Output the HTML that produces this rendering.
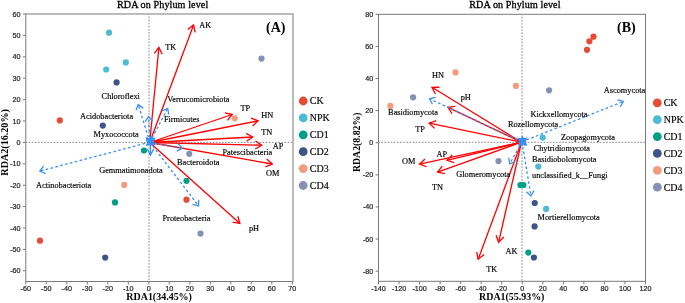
<!DOCTYPE html>
<html><head><meta charset="utf-8"><style>html,body{margin:0;padding:0;background:#fff;}svg{display:block;will-change:transform;}</style></head>
<body><svg width="685" height="303" viewBox="0 0 685 303">
<rect width="685" height="303" fill="#fff"/>
<rect x="25.8" y="14" width="267.2" height="267.5" fill="none" stroke="#7a7a7a" stroke-width="1"/>
<line x1="149" y1="14" x2="149" y2="281.5" stroke="#8a8a8a" stroke-width="1" stroke-dasharray="1.7 1.42" stroke-dashoffset="0.7"/>
<line x1="25.8" y1="142.4" x2="293" y2="142.4" stroke="#8a8a8a" stroke-width="1" stroke-dasharray="1.7 1.42" stroke-dashoffset="0.3"/>
<line x1="25.80" y1="281.5" x2="25.80" y2="284.5" stroke="#7a7a7a" stroke-width="1"/>
<text x="25.80" y="291.40" font-family="'Liberation Sans', serif" font-size="7.2" font-weight="normal" text-anchor="middle" fill="#222" stroke="#222" stroke-width="0.2">-60</text>
<line x1="46.30" y1="281.5" x2="46.30" y2="284.5" stroke="#7a7a7a" stroke-width="1"/>
<text x="46.30" y="291.40" font-family="'Liberation Sans', serif" font-size="7.2" font-weight="normal" text-anchor="middle" fill="#222" stroke="#222" stroke-width="0.2">-50</text>
<line x1="66.80" y1="281.5" x2="66.80" y2="284.5" stroke="#7a7a7a" stroke-width="1"/>
<text x="66.80" y="291.40" font-family="'Liberation Sans', serif" font-size="7.2" font-weight="normal" text-anchor="middle" fill="#222" stroke="#222" stroke-width="0.2">-40</text>
<line x1="87.30" y1="281.5" x2="87.30" y2="284.5" stroke="#7a7a7a" stroke-width="1"/>
<text x="87.30" y="291.40" font-family="'Liberation Sans', serif" font-size="7.2" font-weight="normal" text-anchor="middle" fill="#222" stroke="#222" stroke-width="0.2">-30</text>
<line x1="107.80" y1="281.5" x2="107.80" y2="284.5" stroke="#7a7a7a" stroke-width="1"/>
<text x="107.80" y="291.40" font-family="'Liberation Sans', serif" font-size="7.2" font-weight="normal" text-anchor="middle" fill="#222" stroke="#222" stroke-width="0.2">-20</text>
<line x1="128.30" y1="281.5" x2="128.30" y2="284.5" stroke="#7a7a7a" stroke-width="1"/>
<text x="128.30" y="291.40" font-family="'Liberation Sans', serif" font-size="7.2" font-weight="normal" text-anchor="middle" fill="#222" stroke="#222" stroke-width="0.2">-10</text>
<line x1="148.80" y1="281.5" x2="148.80" y2="284.5" stroke="#7a7a7a" stroke-width="1"/>
<text x="148.80" y="291.40" font-family="'Liberation Sans', serif" font-size="7.2" font-weight="normal" text-anchor="middle" fill="#222" stroke="#222" stroke-width="0.2">0</text>
<line x1="169.30" y1="281.5" x2="169.30" y2="284.5" stroke="#7a7a7a" stroke-width="1"/>
<text x="169.30" y="291.40" font-family="'Liberation Sans', serif" font-size="7.2" font-weight="normal" text-anchor="middle" fill="#222" stroke="#222" stroke-width="0.2">10</text>
<line x1="189.80" y1="281.5" x2="189.80" y2="284.5" stroke="#7a7a7a" stroke-width="1"/>
<text x="189.80" y="291.40" font-family="'Liberation Sans', serif" font-size="7.2" font-weight="normal" text-anchor="middle" fill="#222" stroke="#222" stroke-width="0.2">20</text>
<line x1="210.30" y1="281.5" x2="210.30" y2="284.5" stroke="#7a7a7a" stroke-width="1"/>
<text x="210.30" y="291.40" font-family="'Liberation Sans', serif" font-size="7.2" font-weight="normal" text-anchor="middle" fill="#222" stroke="#222" stroke-width="0.2">30</text>
<line x1="230.80" y1="281.5" x2="230.80" y2="284.5" stroke="#7a7a7a" stroke-width="1"/>
<text x="230.80" y="291.40" font-family="'Liberation Sans', serif" font-size="7.2" font-weight="normal" text-anchor="middle" fill="#222" stroke="#222" stroke-width="0.2">40</text>
<line x1="251.30" y1="281.5" x2="251.30" y2="284.5" stroke="#7a7a7a" stroke-width="1"/>
<text x="251.30" y="291.40" font-family="'Liberation Sans', serif" font-size="7.2" font-weight="normal" text-anchor="middle" fill="#222" stroke="#222" stroke-width="0.2">50</text>
<line x1="271.80" y1="281.5" x2="271.80" y2="284.5" stroke="#7a7a7a" stroke-width="1"/>
<text x="271.80" y="291.40" font-family="'Liberation Sans', serif" font-size="7.2" font-weight="normal" text-anchor="middle" fill="#222" stroke="#222" stroke-width="0.2">60</text>
<line x1="292.30" y1="281.5" x2="292.30" y2="284.5" stroke="#7a7a7a" stroke-width="1"/>
<text x="292.30" y="291.40" font-family="'Liberation Sans', serif" font-size="7.2" font-weight="normal" text-anchor="middle" fill="#222" stroke="#222" stroke-width="0.2">70</text>
<line x1="22.8" y1="14.00" x2="25.8" y2="14.00" stroke="#7a7a7a" stroke-width="1"/>
<text x="20.60" y="16.55" font-family="'Liberation Sans', serif" font-size="7.2" font-weight="normal" text-anchor="end" fill="#222" stroke="#222" stroke-width="0.2">60</text>
<line x1="22.8" y1="35.40" x2="25.8" y2="35.40" stroke="#7a7a7a" stroke-width="1"/>
<text x="20.60" y="37.95" font-family="'Liberation Sans', serif" font-size="7.2" font-weight="normal" text-anchor="end" fill="#222" stroke="#222" stroke-width="0.2">50</text>
<line x1="22.8" y1="56.80" x2="25.8" y2="56.80" stroke="#7a7a7a" stroke-width="1"/>
<text x="20.60" y="59.35" font-family="'Liberation Sans', serif" font-size="7.2" font-weight="normal" text-anchor="end" fill="#222" stroke="#222" stroke-width="0.2">40</text>
<line x1="22.8" y1="78.20" x2="25.8" y2="78.20" stroke="#7a7a7a" stroke-width="1"/>
<text x="20.60" y="80.75" font-family="'Liberation Sans', serif" font-size="7.2" font-weight="normal" text-anchor="end" fill="#222" stroke="#222" stroke-width="0.2">30</text>
<line x1="22.8" y1="99.60" x2="25.8" y2="99.60" stroke="#7a7a7a" stroke-width="1"/>
<text x="20.60" y="102.15" font-family="'Liberation Sans', serif" font-size="7.2" font-weight="normal" text-anchor="end" fill="#222" stroke="#222" stroke-width="0.2">20</text>
<line x1="22.8" y1="121.00" x2="25.8" y2="121.00" stroke="#7a7a7a" stroke-width="1"/>
<text x="20.60" y="123.55" font-family="'Liberation Sans', serif" font-size="7.2" font-weight="normal" text-anchor="end" fill="#222" stroke="#222" stroke-width="0.2">10</text>
<line x1="22.8" y1="142.40" x2="25.8" y2="142.40" stroke="#7a7a7a" stroke-width="1"/>
<text x="20.60" y="144.95" font-family="'Liberation Sans', serif" font-size="7.2" font-weight="normal" text-anchor="end" fill="#222" stroke="#222" stroke-width="0.2">0</text>
<line x1="22.8" y1="163.80" x2="25.8" y2="163.80" stroke="#7a7a7a" stroke-width="1"/>
<text x="20.60" y="166.35" font-family="'Liberation Sans', serif" font-size="7.2" font-weight="normal" text-anchor="end" fill="#222" stroke="#222" stroke-width="0.2">-10</text>
<line x1="22.8" y1="185.20" x2="25.8" y2="185.20" stroke="#7a7a7a" stroke-width="1"/>
<text x="20.60" y="187.75" font-family="'Liberation Sans', serif" font-size="7.2" font-weight="normal" text-anchor="end" fill="#222" stroke="#222" stroke-width="0.2">-20</text>
<line x1="22.8" y1="206.60" x2="25.8" y2="206.60" stroke="#7a7a7a" stroke-width="1"/>
<text x="20.60" y="209.15" font-family="'Liberation Sans', serif" font-size="7.2" font-weight="normal" text-anchor="end" fill="#222" stroke="#222" stroke-width="0.2">-30</text>
<line x1="22.8" y1="228.00" x2="25.8" y2="228.00" stroke="#7a7a7a" stroke-width="1"/>
<text x="20.60" y="230.55" font-family="'Liberation Sans', serif" font-size="7.2" font-weight="normal" text-anchor="end" fill="#222" stroke="#222" stroke-width="0.2">-40</text>
<line x1="22.8" y1="249.40" x2="25.8" y2="249.40" stroke="#7a7a7a" stroke-width="1"/>
<text x="20.60" y="251.95" font-family="'Liberation Sans', serif" font-size="7.2" font-weight="normal" text-anchor="end" fill="#222" stroke="#222" stroke-width="0.2">-50</text>
<line x1="22.8" y1="270.80" x2="25.8" y2="270.80" stroke="#7a7a7a" stroke-width="1"/>
<text x="20.60" y="273.35" font-family="'Liberation Sans', serif" font-size="7.2" font-weight="normal" text-anchor="end" fill="#222" stroke="#222" stroke-width="0.2">-60</text>
<text x="162.55" y="7.90" font-family="'Liberation Serif', serif" font-size="10.1" font-weight="normal" text-anchor="middle" fill="#000" stroke="#000" stroke-width="0.3" textLength="91.3" lengthAdjust="spacing">RDA on Phylum level</text>
<text x="275.70" y="32.00" font-family="'Liberation Serif', serif" font-size="14" font-weight="bold" text-anchor="middle" fill="#000">(A)</text>
<text transform="translate(159.1,300.3)" x="0" y="0" font-family="'Liberation Serif', serif" font-size="10.7" font-weight="bold" text-anchor="middle" textLength="65.6" lengthAdjust="spacingAndGlyphs" fill="#000">RDA1(34.45%)</text>
<text transform="translate(7.6,142.4) rotate(-90)" x="0" y="0" font-family="'Liberation Serif', serif" font-size="10.7" font-weight="bold" text-anchor="middle" textLength="66.5" lengthAdjust="spacingAndGlyphs" fill="#000">RDA2(16.20%)</text>
<line x1="149.70" y1="142.50" x2="158.90" y2="47.50" stroke="#ff0000" stroke-width="1.3"/>
<polyline points="162.24,54.21 158.90,47.50 154.33,53.45" fill="none" stroke="#ff0000" stroke-width="1.3" stroke-linejoin="miter"/>
<line x1="149.70" y1="142.50" x2="193.60" y2="25.00" stroke="#ff0000" stroke-width="1.3"/>
<polyline points="195.10,32.35 193.60,25.00 187.65,29.57" fill="none" stroke="#ff0000" stroke-width="1.3" stroke-linejoin="miter"/>
<line x1="149.70" y1="142.50" x2="232.20" y2="114.50" stroke="#ff0000" stroke-width="1.3"/>
<polyline points="227.45,120.31 232.20,114.50 224.90,112.78" fill="none" stroke="#ff0000" stroke-width="1.3" stroke-linejoin="miter"/>
<line x1="149.70" y1="142.50" x2="258.10" y2="120.80" stroke="#ff0000" stroke-width="1.3"/>
<polyline points="252.64,125.95 258.10,120.80 251.08,118.15" fill="none" stroke="#ff0000" stroke-width="1.3" stroke-linejoin="miter"/>
<line x1="149.70" y1="142.50" x2="252.70" y2="137.00" stroke="#ff0000" stroke-width="1.3"/>
<polyline points="246.56,141.31 252.70,137.00 246.14,133.37" fill="none" stroke="#ff0000" stroke-width="1.3" stroke-linejoin="miter"/>
<line x1="149.70" y1="142.50" x2="261.70" y2="145.20" stroke="#ff0000" stroke-width="1.3"/>
<polyline points="255.25,149.02 261.70,145.20 255.44,141.07" fill="none" stroke="#ff0000" stroke-width="1.3" stroke-linejoin="miter"/>
<line x1="149.70" y1="142.50" x2="272.30" y2="164.00" stroke="#ff0000" stroke-width="1.3"/>
<polyline points="265.35,166.82 272.30,164.00 266.72,158.99" fill="none" stroke="#ff0000" stroke-width="1.3" stroke-linejoin="miter"/>
<line x1="149.70" y1="142.50" x2="239.90" y2="223.50" stroke="#ff0000" stroke-width="1.3"/>
<polyline points="232.51,222.21 239.90,223.50 237.82,216.29" fill="none" stroke="#ff0000" stroke-width="1.3" stroke-linejoin="miter"/>
<circle cx="109.00" cy="32.70" r="3.1" fill="#4DBBD5"/>
<circle cx="125.80" cy="62.40" r="3.1" fill="#4DBBD5"/>
<circle cx="106.20" cy="69.50" r="3.1" fill="#4DBBD5"/>
<circle cx="116.60" cy="82.40" r="3.1" fill="#3C5488"/>
<circle cx="59.80" cy="120.40" r="3.1" fill="#E64B35"/>
<circle cx="102.80" cy="125.60" r="3.1" fill="#3C5488"/>
<circle cx="261.50" cy="58.60" r="3.1" fill="#8491B4"/>
<circle cx="234.70" cy="118.30" r="3.1" fill="#F39B7F"/>
<circle cx="144.00" cy="150.50" r="3.1" fill="#00A087"/>
<circle cx="189.30" cy="153.80" r="3.1" fill="#8491B4"/>
<circle cx="186.50" cy="180.80" r="3.1" fill="#00A087"/>
<circle cx="186.50" cy="199.70" r="3.1" fill="#E64B35"/>
<circle cx="200.50" cy="233.60" r="3.1" fill="#8491B4"/>
<circle cx="124.30" cy="184.90" r="3.1" fill="#F39B7F"/>
<circle cx="115.00" cy="202.40" r="3.1" fill="#00A087"/>
<circle cx="40.00" cy="240.70" r="3.1" fill="#E64B35"/>
<circle cx="105.20" cy="257.60" r="3.1" fill="#3C5488"/>
<line x1="149.80" y1="142.20" x2="138.20" y2="104.60" stroke="#3a8ff0" stroke-width="1.3" stroke-dasharray="2.6 2.4"/>
<polyline points="143.29,108.14 138.20,104.60 135.99,110.39" fill="none" stroke="#3a8ff0" stroke-width="1.3" stroke-linejoin="miter"/>
<line x1="149.80" y1="142.20" x2="148.60" y2="116.60" stroke="#3a8ff0" stroke-width="1.3" stroke-dasharray="2.6 2.4"/>
<polyline points="152.64,121.30 148.60,116.60 145.02,121.66" fill="none" stroke="#3a8ff0" stroke-width="1.3" stroke-linejoin="miter"/>
<line x1="149.80" y1="142.20" x2="167.70" y2="108.40" stroke="#3a8ff0" stroke-width="1.3" stroke-dasharray="2.6 2.4"/>
<polyline points="168.79,114.50 167.70,108.40 162.04,110.93" fill="none" stroke="#3a8ff0" stroke-width="1.3" stroke-linejoin="miter"/>
<line x1="149.80" y1="142.20" x2="39.80" y2="171.10" stroke="#3a8ff0" stroke-width="1.3" stroke-dasharray="2.6 2.4"/>
<polyline points="43.56,166.17 39.80,171.10 45.50,173.55" fill="none" stroke="#3a8ff0" stroke-width="1.3" stroke-linejoin="miter"/>
<line x1="149.80" y1="142.20" x2="182.30" y2="148.30" stroke="#3a8ff0" stroke-width="1.3" stroke-dasharray="2.6 2.4"/>
<polyline points="176.79,151.15 182.30,148.30 178.20,143.65" fill="none" stroke="#3a8ff0" stroke-width="1.3" stroke-linejoin="miter"/>
<line x1="149.80" y1="142.20" x2="198.60" y2="205.90" stroke="#3a8ff0" stroke-width="1.3" stroke-dasharray="2.6 2.4"/>
<polyline points="192.60,204.34 198.60,205.90 198.66,199.70" fill="none" stroke="#3a8ff0" stroke-width="1.3" stroke-linejoin="miter"/>
<line x1="150.40" y1="142.20" x2="150.50" y2="155.10" stroke="#3a8ff0" stroke-width="1.3"/>
<polyline points="147.17,148.95 150.50,155.10 153.74,148.89" fill="none" stroke="#3a8ff0" stroke-width="1.3" stroke-linejoin="miter"/>
<line x1="149.80" y1="142.20" x2="154.50" y2="138.30" stroke="#3a8ff0" stroke-width="1.4"/>
<polyline points="153.11,142.05 154.50,138.30 150.56,138.97" fill="none" stroke="#3a8ff0" stroke-width="1.4" stroke-linejoin="miter"/>
<line x1="149.80" y1="142.20" x2="146.50" y2="138.00" stroke="#3a8ff0" stroke-width="1.4"/>
<polyline points="150.21,139.49 146.50,138.00 147.07,141.96" fill="none" stroke="#3a8ff0" stroke-width="1.4" stroke-linejoin="miter"/>
<line x1="149.80" y1="142.20" x2="154.80" y2="144.50" stroke="#3a8ff0" stroke-width="1.4"/>
<polyline points="150.82,144.87 154.80,144.50 152.49,141.24" fill="none" stroke="#3a8ff0" stroke-width="1.4" stroke-linejoin="miter"/>
<line x1="149.80" y1="142.20" x2="147.00" y2="145.00" stroke="#3a8ff0" stroke-width="1.4"/>
<polyline points="148.04,141.14 147.00,145.00 150.86,143.96" fill="none" stroke="#3a8ff0" stroke-width="1.4" stroke-linejoin="miter"/>
<line x1="149.80" y1="142.20" x2="151.00" y2="137.00" stroke="#3a8ff0" stroke-width="1.4"/>
<polyline points="152.17,140.83 151.00,137.00 148.27,139.93" fill="none" stroke="#3a8ff0" stroke-width="1.4" stroke-linejoin="miter"/>
<text x="165.30" y="50.30" font-family="'Liberation Serif', serif" font-size="8.3" font-weight="normal" text-anchor="start" fill="#000" stroke="#000" stroke-width="0.16">TK</text>
<text x="199.30" y="28.30" font-family="'Liberation Serif', serif" font-size="8.3" font-weight="normal" text-anchor="start" fill="#000" stroke="#000" stroke-width="0.16">AK</text>
<text x="240.40" y="110.70" font-family="'Liberation Serif', serif" font-size="8.3" font-weight="normal" text-anchor="start" fill="#000" stroke="#000" stroke-width="0.16">TP</text>
<text x="261.20" y="117.70" font-family="'Liberation Serif', serif" font-size="8.3" font-weight="normal" text-anchor="start" fill="#000" stroke="#000" stroke-width="0.16">HN</text>
<text x="261.20" y="134.80" font-family="'Liberation Serif', serif" font-size="8.3" font-weight="normal" text-anchor="start" fill="#000" stroke="#000" stroke-width="0.16">TN</text>
<text x="272.80" y="149.30" font-family="'Liberation Serif', serif" font-size="8.3" font-weight="normal" text-anchor="start" fill="#000" stroke="#000" stroke-width="0.16">AP</text>
<text x="265.90" y="175.80" font-family="'Liberation Serif', serif" font-size="8.3" font-weight="normal" text-anchor="start" fill="#000" stroke="#000" stroke-width="0.16">OM</text>
<text x="248.90" y="231.40" font-family="'Liberation Serif', serif" font-size="8.3" font-weight="normal" text-anchor="start" fill="#000" stroke="#000" stroke-width="0.16">pH</text>
<text x="101.60" y="99.30" font-family="'Liberation Serif', serif" font-size="8.3" font-weight="normal" text-anchor="start" fill="#000" stroke="#000" stroke-width="0.16">Chloroflexi</text>
<text x="80.10" y="118.90" font-family="'Liberation Serif', serif" font-size="8.3" font-weight="normal" text-anchor="start" fill="#000" stroke="#000" stroke-width="0.16">Acidobacteriota</text>
<text x="93.50" y="137.00" font-family="'Liberation Serif', serif" font-size="8.3" font-weight="normal" text-anchor="start" fill="#000" stroke="#000" stroke-width="0.16">Myxococcota</text>
<text x="167.30" y="101.50" font-family="'Liberation Serif', serif" font-size="8.3" font-weight="normal" text-anchor="start" fill="#000" stroke="#000" stroke-width="0.16">Verrucomicrobiota</text>
<text x="163.90" y="121.70" font-family="'Liberation Serif', serif" font-size="8.3" font-weight="normal" text-anchor="start" fill="#000" stroke="#000" stroke-width="0.16">Firmicutes</text>
<text x="222.40" y="155.00" font-family="'Liberation Serif', serif" font-size="8.3" font-weight="normal" text-anchor="start" fill="#000" stroke="#000" stroke-width="0.16">Patescibacteria</text>
<text x="177.00" y="164.50" font-family="'Liberation Serif', serif" font-size="8.3" font-weight="normal" text-anchor="start" fill="#000" stroke="#000" stroke-width="0.16">Bacteroidota</text>
<text x="162.50" y="220.60" font-family="'Liberation Serif', serif" font-size="8.3" font-weight="normal" text-anchor="start" fill="#000" stroke="#000" stroke-width="0.16">Proteobacteria</text>
<text x="36.00" y="187.60" font-family="'Liberation Serif', serif" font-size="8.3" font-weight="normal" text-anchor="start" fill="#000" stroke="#000" stroke-width="0.16">Actinobacteriota</text>
<text x="99.20" y="172.80" font-family="'Liberation Serif', serif" font-size="8.3" font-weight="normal" text-anchor="start" fill="#000" stroke="#000" stroke-width="0.16">Gemmatimonadota</text>
<circle cx="303.20" cy="101.00" r="4.4" fill="#E64B35"/>
<text x="309.80" y="104.40" font-family="'Liberation Serif', serif" font-size="10" font-weight="normal" text-anchor="start" fill="#000" stroke="#000" stroke-width="0.16">CK</text>
<circle cx="303.20" cy="117.90" r="4.4" fill="#4DBBD5"/>
<text x="309.80" y="121.30" font-family="'Liberation Serif', serif" font-size="10" font-weight="normal" text-anchor="start" fill="#000" stroke="#000" stroke-width="0.16">NPK</text>
<circle cx="303.20" cy="134.80" r="4.4" fill="#00A087"/>
<text x="309.80" y="138.20" font-family="'Liberation Serif', serif" font-size="10" font-weight="normal" text-anchor="start" fill="#000" stroke="#000" stroke-width="0.16">CD1</text>
<circle cx="303.20" cy="151.70" r="4.4" fill="#3C5488"/>
<text x="309.80" y="155.10" font-family="'Liberation Serif', serif" font-size="10" font-weight="normal" text-anchor="start" fill="#000" stroke="#000" stroke-width="0.16">CD2</text>
<circle cx="303.20" cy="168.60" r="4.4" fill="#F39B7F"/>
<text x="309.80" y="172.00" font-family="'Liberation Serif', serif" font-size="10" font-weight="normal" text-anchor="start" fill="#000" stroke="#000" stroke-width="0.16">CD3</text>
<circle cx="303.20" cy="185.50" r="4.4" fill="#8491B4"/>
<text x="309.80" y="188.90" font-family="'Liberation Serif', serif" font-size="10" font-weight="normal" text-anchor="start" fill="#000" stroke="#000" stroke-width="0.16">CD4</text>
<rect x="378.5" y="14.3" width="267.0" height="267.0" fill="none" stroke="#7a7a7a" stroke-width="1"/>
<line x1="522" y1="14.3" x2="522" y2="281.3" stroke="#8a8a8a" stroke-width="1" stroke-dasharray="1.7 1.42" stroke-dashoffset="0.7"/>
<line x1="378.5" y1="142.3" x2="645.5" y2="142.3" stroke="#8a8a8a" stroke-width="1" stroke-dasharray="1.7 1.42" stroke-dashoffset="0.3"/>
<line x1="378.50" y1="281.3" x2="378.50" y2="284.3" stroke="#7a7a7a" stroke-width="1"/>
<text x="378.50" y="291.20" font-family="'Liberation Sans', serif" font-size="7.2" font-weight="normal" text-anchor="middle" fill="#222" stroke="#222" stroke-width="0.2">-140</text>
<line x1="399.04" y1="281.3" x2="399.04" y2="284.3" stroke="#7a7a7a" stroke-width="1"/>
<text x="399.04" y="291.20" font-family="'Liberation Sans', serif" font-size="7.2" font-weight="normal" text-anchor="middle" fill="#222" stroke="#222" stroke-width="0.2">-120</text>
<line x1="419.58" y1="281.3" x2="419.58" y2="284.3" stroke="#7a7a7a" stroke-width="1"/>
<text x="419.58" y="291.20" font-family="'Liberation Sans', serif" font-size="7.2" font-weight="normal" text-anchor="middle" fill="#222" stroke="#222" stroke-width="0.2">-100</text>
<line x1="440.12" y1="281.3" x2="440.12" y2="284.3" stroke="#7a7a7a" stroke-width="1"/>
<text x="440.12" y="291.20" font-family="'Liberation Sans', serif" font-size="7.2" font-weight="normal" text-anchor="middle" fill="#222" stroke="#222" stroke-width="0.2">-80</text>
<line x1="460.66" y1="281.3" x2="460.66" y2="284.3" stroke="#7a7a7a" stroke-width="1"/>
<text x="460.66" y="291.20" font-family="'Liberation Sans', serif" font-size="7.2" font-weight="normal" text-anchor="middle" fill="#222" stroke="#222" stroke-width="0.2">-60</text>
<line x1="481.20" y1="281.3" x2="481.20" y2="284.3" stroke="#7a7a7a" stroke-width="1"/>
<text x="481.20" y="291.20" font-family="'Liberation Sans', serif" font-size="7.2" font-weight="normal" text-anchor="middle" fill="#222" stroke="#222" stroke-width="0.2">-40</text>
<line x1="501.74" y1="281.3" x2="501.74" y2="284.3" stroke="#7a7a7a" stroke-width="1"/>
<text x="501.74" y="291.20" font-family="'Liberation Sans', serif" font-size="7.2" font-weight="normal" text-anchor="middle" fill="#222" stroke="#222" stroke-width="0.2">-20</text>
<line x1="522.28" y1="281.3" x2="522.28" y2="284.3" stroke="#7a7a7a" stroke-width="1"/>
<text x="522.28" y="291.20" font-family="'Liberation Sans', serif" font-size="7.2" font-weight="normal" text-anchor="middle" fill="#222" stroke="#222" stroke-width="0.2">0</text>
<line x1="542.82" y1="281.3" x2="542.82" y2="284.3" stroke="#7a7a7a" stroke-width="1"/>
<text x="542.82" y="291.20" font-family="'Liberation Sans', serif" font-size="7.2" font-weight="normal" text-anchor="middle" fill="#222" stroke="#222" stroke-width="0.2">20</text>
<line x1="563.36" y1="281.3" x2="563.36" y2="284.3" stroke="#7a7a7a" stroke-width="1"/>
<text x="563.36" y="291.20" font-family="'Liberation Sans', serif" font-size="7.2" font-weight="normal" text-anchor="middle" fill="#222" stroke="#222" stroke-width="0.2">40</text>
<line x1="583.90" y1="281.3" x2="583.90" y2="284.3" stroke="#7a7a7a" stroke-width="1"/>
<text x="583.90" y="291.20" font-family="'Liberation Sans', serif" font-size="7.2" font-weight="normal" text-anchor="middle" fill="#222" stroke="#222" stroke-width="0.2">60</text>
<line x1="604.44" y1="281.3" x2="604.44" y2="284.3" stroke="#7a7a7a" stroke-width="1"/>
<text x="604.44" y="291.20" font-family="'Liberation Sans', serif" font-size="7.2" font-weight="normal" text-anchor="middle" fill="#222" stroke="#222" stroke-width="0.2">80</text>
<line x1="624.98" y1="281.3" x2="624.98" y2="284.3" stroke="#7a7a7a" stroke-width="1"/>
<text x="624.98" y="291.20" font-family="'Liberation Sans', serif" font-size="7.2" font-weight="normal" text-anchor="middle" fill="#222" stroke="#222" stroke-width="0.2">100</text>
<line x1="645.52" y1="281.3" x2="645.52" y2="284.3" stroke="#7a7a7a" stroke-width="1"/>
<text x="645.52" y="291.20" font-family="'Liberation Sans', serif" font-size="7.2" font-weight="normal" text-anchor="middle" fill="#222" stroke="#222" stroke-width="0.2">120</text>
<line x1="375.5" y1="14.30" x2="378.5" y2="14.30" stroke="#7a7a7a" stroke-width="1"/>
<text x="373.30" y="16.85" font-family="'Liberation Sans', serif" font-size="7.2" font-weight="normal" text-anchor="end" fill="#222" stroke="#222" stroke-width="0.2">80</text>
<line x1="375.5" y1="46.41" x2="378.5" y2="46.41" stroke="#7a7a7a" stroke-width="1"/>
<text x="373.30" y="48.96" font-family="'Liberation Sans', serif" font-size="7.2" font-weight="normal" text-anchor="end" fill="#222" stroke="#222" stroke-width="0.2">60</text>
<line x1="375.5" y1="78.51" x2="378.5" y2="78.51" stroke="#7a7a7a" stroke-width="1"/>
<text x="373.30" y="81.06" font-family="'Liberation Sans', serif" font-size="7.2" font-weight="normal" text-anchor="end" fill="#222" stroke="#222" stroke-width="0.2">40</text>
<line x1="375.5" y1="110.62" x2="378.5" y2="110.62" stroke="#7a7a7a" stroke-width="1"/>
<text x="373.30" y="113.17" font-family="'Liberation Sans', serif" font-size="7.2" font-weight="normal" text-anchor="end" fill="#222" stroke="#222" stroke-width="0.2">20</text>
<line x1="375.5" y1="142.72" x2="378.5" y2="142.72" stroke="#7a7a7a" stroke-width="1"/>
<text x="373.30" y="145.27" font-family="'Liberation Sans', serif" font-size="7.2" font-weight="normal" text-anchor="end" fill="#222" stroke="#222" stroke-width="0.2">0</text>
<line x1="375.5" y1="174.83" x2="378.5" y2="174.83" stroke="#7a7a7a" stroke-width="1"/>
<text x="373.30" y="177.38" font-family="'Liberation Sans', serif" font-size="7.2" font-weight="normal" text-anchor="end" fill="#222" stroke="#222" stroke-width="0.2">-20</text>
<line x1="375.5" y1="206.94" x2="378.5" y2="206.94" stroke="#7a7a7a" stroke-width="1"/>
<text x="373.30" y="209.49" font-family="'Liberation Sans', serif" font-size="7.2" font-weight="normal" text-anchor="end" fill="#222" stroke="#222" stroke-width="0.2">-40</text>
<line x1="375.5" y1="239.04" x2="378.5" y2="239.04" stroke="#7a7a7a" stroke-width="1"/>
<text x="373.30" y="241.59" font-family="'Liberation Sans', serif" font-size="7.2" font-weight="normal" text-anchor="end" fill="#222" stroke="#222" stroke-width="0.2">-60</text>
<line x1="375.5" y1="271.15" x2="378.5" y2="271.15" stroke="#7a7a7a" stroke-width="1"/>
<text x="373.30" y="273.70" font-family="'Liberation Sans', serif" font-size="7.2" font-weight="normal" text-anchor="end" fill="#222" stroke="#222" stroke-width="0.2">-80</text>
<text x="514.85" y="7.90" font-family="'Liberation Serif', serif" font-size="10.1" font-weight="normal" text-anchor="middle" fill="#000" stroke="#000" stroke-width="0.3" textLength="91.3" lengthAdjust="spacing">RDA on Phylum level</text>
<text x="626.40" y="32.00" font-family="'Liberation Serif', serif" font-size="14" font-weight="bold" text-anchor="middle" fill="#000">(B)</text>
<text transform="translate(511.7,300.3)" x="0" y="0" font-family="'Liberation Serif', serif" font-size="10.7" font-weight="bold" text-anchor="middle" textLength="65.3" lengthAdjust="spacingAndGlyphs" fill="#000">RDA1(55.93%)</text>
<text transform="translate(359.8,142.3) rotate(-90)" x="0" y="0" font-family="'Liberation Serif', serif" font-size="10.7" font-weight="bold" text-anchor="middle" textLength="59.6" lengthAdjust="spacingAndGlyphs" fill="#000">RDA2(8.82%)</text>
<line x1="521.50" y1="142.20" x2="432.00" y2="87.30" stroke="#ff0000" stroke-width="1.3"/>
<polyline points="439.50,87.24 432.00,87.30 435.34,94.01" fill="none" stroke="#ff0000" stroke-width="1.3" stroke-linejoin="miter"/>
<line x1="521.50" y1="142.20" x2="448.00" y2="107.30" stroke="#ff0000" stroke-width="1.3"/>
<polyline points="455.45,106.44 448.00,107.30 452.04,113.62" fill="none" stroke="#ff0000" stroke-width="1.3" stroke-linejoin="miter"/>
<line x1="521.50" y1="142.20" x2="429.20" y2="123.20" stroke="#ff0000" stroke-width="1.3"/>
<polyline points="436.23,120.59 429.20,123.20 434.63,128.38" fill="none" stroke="#ff0000" stroke-width="1.3" stroke-linejoin="miter"/>
<line x1="521.50" y1="142.20" x2="447.00" y2="160.30" stroke="#ff0000" stroke-width="1.3"/>
<polyline points="452.24,154.94 447.00,160.30 454.12,162.66" fill="none" stroke="#ff0000" stroke-width="1.3" stroke-linejoin="miter"/>
<line x1="521.50" y1="142.20" x2="419.60" y2="164.20" stroke="#ff0000" stroke-width="1.3"/>
<polyline points="424.98,158.97 419.60,164.20 426.66,166.74" fill="none" stroke="#ff0000" stroke-width="1.3" stroke-linejoin="miter"/>
<line x1="521.50" y1="142.20" x2="437.60" y2="172.10" stroke="#ff0000" stroke-width="1.3"/>
<polyline points="442.26,166.22 437.60,172.10 444.93,173.71" fill="none" stroke="#ff0000" stroke-width="1.3" stroke-linejoin="miter"/>
<line x1="521.50" y1="142.20" x2="498.60" y2="242.30" stroke="#ff0000" stroke-width="1.3"/>
<polyline points="496.14,235.21 498.60,242.30 503.89,236.99" fill="none" stroke="#ff0000" stroke-width="1.3" stroke-linejoin="miter"/>
<line x1="521.50" y1="142.20" x2="478.20" y2="259.20" stroke="#ff0000" stroke-width="1.3"/>
<polyline points="476.68,251.86 478.20,259.20 484.13,254.61" fill="none" stroke="#ff0000" stroke-width="1.3" stroke-linejoin="miter"/>
<circle cx="593.50" cy="36.70" r="3.1" fill="#E64B35"/>
<circle cx="589.40" cy="41.30" r="3.1" fill="#E64B35"/>
<circle cx="587.00" cy="49.80" r="3.1" fill="#E64B35"/>
<circle cx="455.50" cy="72.40" r="3.1" fill="#F39B7F"/>
<circle cx="515.90" cy="85.90" r="3.1" fill="#F39B7F"/>
<circle cx="413.10" cy="97.30" r="3.1" fill="#8491B4"/>
<circle cx="390.40" cy="105.90" r="3.1" fill="#F39B7F"/>
<circle cx="549.10" cy="90.30" r="3.1" fill="#8491B4"/>
<circle cx="542.70" cy="137.60" r="3.1" fill="#4DBBD5"/>
<circle cx="498.50" cy="161.10" r="3.1" fill="#8491B4"/>
<circle cx="538.30" cy="166.60" r="3.1" fill="#4DBBD5"/>
<circle cx="520.40" cy="185.00" r="3.1" fill="#00A087"/>
<circle cx="523.40" cy="185.00" r="3.1" fill="#00A087"/>
<circle cx="534.70" cy="203.00" r="3.1" fill="#3C5488"/>
<circle cx="546.10" cy="208.90" r="3.1" fill="#4DBBD5"/>
<circle cx="534.60" cy="226.40" r="3.1" fill="#3C5488"/>
<circle cx="528.30" cy="252.60" r="3.1" fill="#00A087"/>
<circle cx="533.90" cy="257.50" r="3.1" fill="#3C5488"/>
<line x1="522.00" y1="141.80" x2="429.60" y2="98.80" stroke="#3a8ff0" stroke-width="1.3" stroke-dasharray="2.6 2.4"/>
<polyline points="435.64,97.40 429.60,98.80 432.42,104.32" fill="none" stroke="#3a8ff0" stroke-width="1.3" stroke-linejoin="miter"/>
<line x1="522.00" y1="141.80" x2="623.40" y2="101.50" stroke="#3a8ff0" stroke-width="1.3" stroke-dasharray="2.6 2.4"/>
<polyline points="620.27,106.85 623.40,101.50 617.45,99.76" fill="none" stroke="#3a8ff0" stroke-width="1.3" stroke-linejoin="miter"/>
<line x1="522.00" y1="141.80" x2="509.70" y2="163.90" stroke="#3a8ff0" stroke-width="1.3" stroke-dasharray="2.6 2.4"/>
<polyline points="508.74,157.77 509.70,163.90 515.41,161.49" fill="none" stroke="#3a8ff0" stroke-width="1.3" stroke-linejoin="miter"/>
<line x1="522.00" y1="141.80" x2="531.00" y2="196.00" stroke="#3a8ff0" stroke-width="1.3" stroke-dasharray="2.6 2.4"/>
<polyline points="526.43,191.81 531.00,196.00 533.97,190.56" fill="none" stroke="#3a8ff0" stroke-width="1.3" stroke-linejoin="miter"/>
<line x1="522.00" y1="141.80" x2="526.20" y2="138.30" stroke="#3a8ff0" stroke-width="1.4"/>
<polyline points="524.82,142.05 526.20,138.30 522.26,138.98" fill="none" stroke="#3a8ff0" stroke-width="1.4" stroke-linejoin="miter"/>
<line x1="522.00" y1="141.80" x2="518.50" y2="138.50" stroke="#3a8ff0" stroke-width="1.4"/>
<polyline points="522.39,139.42 518.50,138.50 519.65,142.33" fill="none" stroke="#3a8ff0" stroke-width="1.4" stroke-linejoin="miter"/>
<line x1="522.00" y1="141.80" x2="526.20" y2="145.00" stroke="#3a8ff0" stroke-width="1.4"/>
<polyline points="522.23,144.49 526.20,145.00 524.66,141.31" fill="none" stroke="#3a8ff0" stroke-width="1.4" stroke-linejoin="miter"/>
<line x1="522.00" y1="141.80" x2="519.00" y2="145.30" stroke="#3a8ff0" stroke-width="1.4"/>
<polyline points="519.74,141.37 519.00,145.30 522.77,143.97" fill="none" stroke="#3a8ff0" stroke-width="1.4" stroke-linejoin="miter"/>
<line x1="522.00" y1="141.80" x2="522.50" y2="137.00" stroke="#3a8ff0" stroke-width="1.4"/>
<polyline points="524.13,140.65 522.50,137.00 520.15,140.24" fill="none" stroke="#3a8ff0" stroke-width="1.4" stroke-linejoin="miter"/>
<line x1="522.00" y1="141.80" x2="525.00" y2="141.50" stroke="#3a8ff0" stroke-width="1.4"/>
<polyline points="521.75,143.83 525.00,141.50 521.35,139.85" fill="none" stroke="#3a8ff0" stroke-width="1.4" stroke-linejoin="miter"/>
<text x="432.00" y="78.00" font-family="'Liberation Serif', serif" font-size="8.3" font-weight="normal" text-anchor="start" fill="#000" stroke="#000" stroke-width="0.16">HN</text>
<text x="460.70" y="100.40" font-family="'Liberation Serif', serif" font-size="8.3" font-weight="normal" text-anchor="start" fill="#000" stroke="#000" stroke-width="0.16">pH</text>
<text x="388.10" y="115.20" font-family="'Liberation Serif', serif" font-size="8.3" font-weight="normal" text-anchor="start" fill="#000" stroke="#000" stroke-width="0.16">Basidiomycota</text>
<text x="415.30" y="132.30" font-family="'Liberation Serif', serif" font-size="8.3" font-weight="normal" text-anchor="start" fill="#000" stroke="#000" stroke-width="0.16">TP</text>
<text x="436.60" y="157.10" font-family="'Liberation Serif', serif" font-size="8.3" font-weight="normal" text-anchor="start" fill="#000" stroke="#000" stroke-width="0.16">AP</text>
<text x="401.90" y="164.40" font-family="'Liberation Serif', serif" font-size="8.3" font-weight="normal" text-anchor="start" fill="#000" stroke="#000" stroke-width="0.16">OM</text>
<text x="432.00" y="189.60" font-family="'Liberation Serif', serif" font-size="8.3" font-weight="normal" text-anchor="start" fill="#000" stroke="#000" stroke-width="0.16">TN</text>
<text x="456.30" y="176.80" font-family="'Liberation Serif', serif" font-size="8.3" font-weight="normal" text-anchor="start" fill="#000" stroke="#000" stroke-width="0.16">Glomeromycota</text>
<text x="603.80" y="92.70" font-family="'Liberation Serif', serif" font-size="8.3" font-weight="normal" text-anchor="start" fill="#000" stroke="#000" stroke-width="0.16">Ascomycota</text>
<text x="530.40" y="117.00" font-family="'Liberation Serif', serif" font-size="8.3" font-weight="normal" text-anchor="start" fill="#000" stroke="#000" stroke-width="0.16">Kickxellomycota</text>
<text x="507.90" y="126.50" font-family="'Liberation Serif', serif" font-size="8.3" font-weight="normal" text-anchor="start" fill="#000" stroke="#000" stroke-width="0.16">Rozellomycota</text>
<text x="561.00" y="139.60" font-family="'Liberation Serif', serif" font-size="8.3" font-weight="normal" text-anchor="start" fill="#000" stroke="#000" stroke-width="0.16">Zoopagomycota</text>
<text x="533.70" y="151.30" font-family="'Liberation Serif', serif" font-size="8.3" font-weight="normal" text-anchor="start" fill="#000" stroke="#000" stroke-width="0.16">Chytridiomycota</text>
<text x="532.00" y="162.10" font-family="'Liberation Serif', serif" font-size="8.3" font-weight="normal" text-anchor="start" fill="#000" stroke="#000" stroke-width="0.16">Basidiobolomycota</text>
<text x="532.00" y="177.50" font-family="'Liberation Serif', serif" font-size="8.3" font-weight="normal" text-anchor="start" fill="#000" stroke="#000" stroke-width="0.16">unclassified_k__Fungi</text>
<text x="537.60" y="220.30" font-family="'Liberation Serif', serif" font-size="8.3" font-weight="normal" text-anchor="start" fill="#000" stroke="#000" stroke-width="0.16">Mortierellomycota</text>
<text x="505.40" y="253.90" font-family="'Liberation Serif', serif" font-size="8.3" font-weight="normal" text-anchor="start" fill="#000" stroke="#000" stroke-width="0.16">AK</text>
<text x="486.20" y="271.70" font-family="'Liberation Serif', serif" font-size="8.3" font-weight="normal" text-anchor="start" fill="#000" stroke="#000" stroke-width="0.16">TK</text>
<circle cx="657.30" cy="102.80" r="4.4" fill="#E64B35"/>
<text x="663.70" y="106.20" font-family="'Liberation Serif', serif" font-size="10" font-weight="normal" text-anchor="start" fill="#000" stroke="#000" stroke-width="0.16">CK</text>
<circle cx="657.30" cy="119.68" r="4.4" fill="#4DBBD5"/>
<text x="663.70" y="123.08" font-family="'Liberation Serif', serif" font-size="10" font-weight="normal" text-anchor="start" fill="#000" stroke="#000" stroke-width="0.16">NPK</text>
<circle cx="657.30" cy="136.56" r="4.4" fill="#00A087"/>
<text x="663.70" y="139.96" font-family="'Liberation Serif', serif" font-size="10" font-weight="normal" text-anchor="start" fill="#000" stroke="#000" stroke-width="0.16">CD1</text>
<circle cx="657.30" cy="153.44" r="4.4" fill="#3C5488"/>
<text x="663.70" y="156.84" font-family="'Liberation Serif', serif" font-size="10" font-weight="normal" text-anchor="start" fill="#000" stroke="#000" stroke-width="0.16">CD2</text>
<circle cx="657.30" cy="170.32" r="4.4" fill="#F39B7F"/>
<text x="663.70" y="173.72" font-family="'Liberation Serif', serif" font-size="10" font-weight="normal" text-anchor="start" fill="#000" stroke="#000" stroke-width="0.16">CD3</text>
<circle cx="657.30" cy="187.20" r="4.4" fill="#8491B4"/>
<text x="663.70" y="190.60" font-family="'Liberation Serif', serif" font-size="10" font-weight="normal" text-anchor="start" fill="#000" stroke="#000" stroke-width="0.16">CD4</text>
</svg></body></html>
